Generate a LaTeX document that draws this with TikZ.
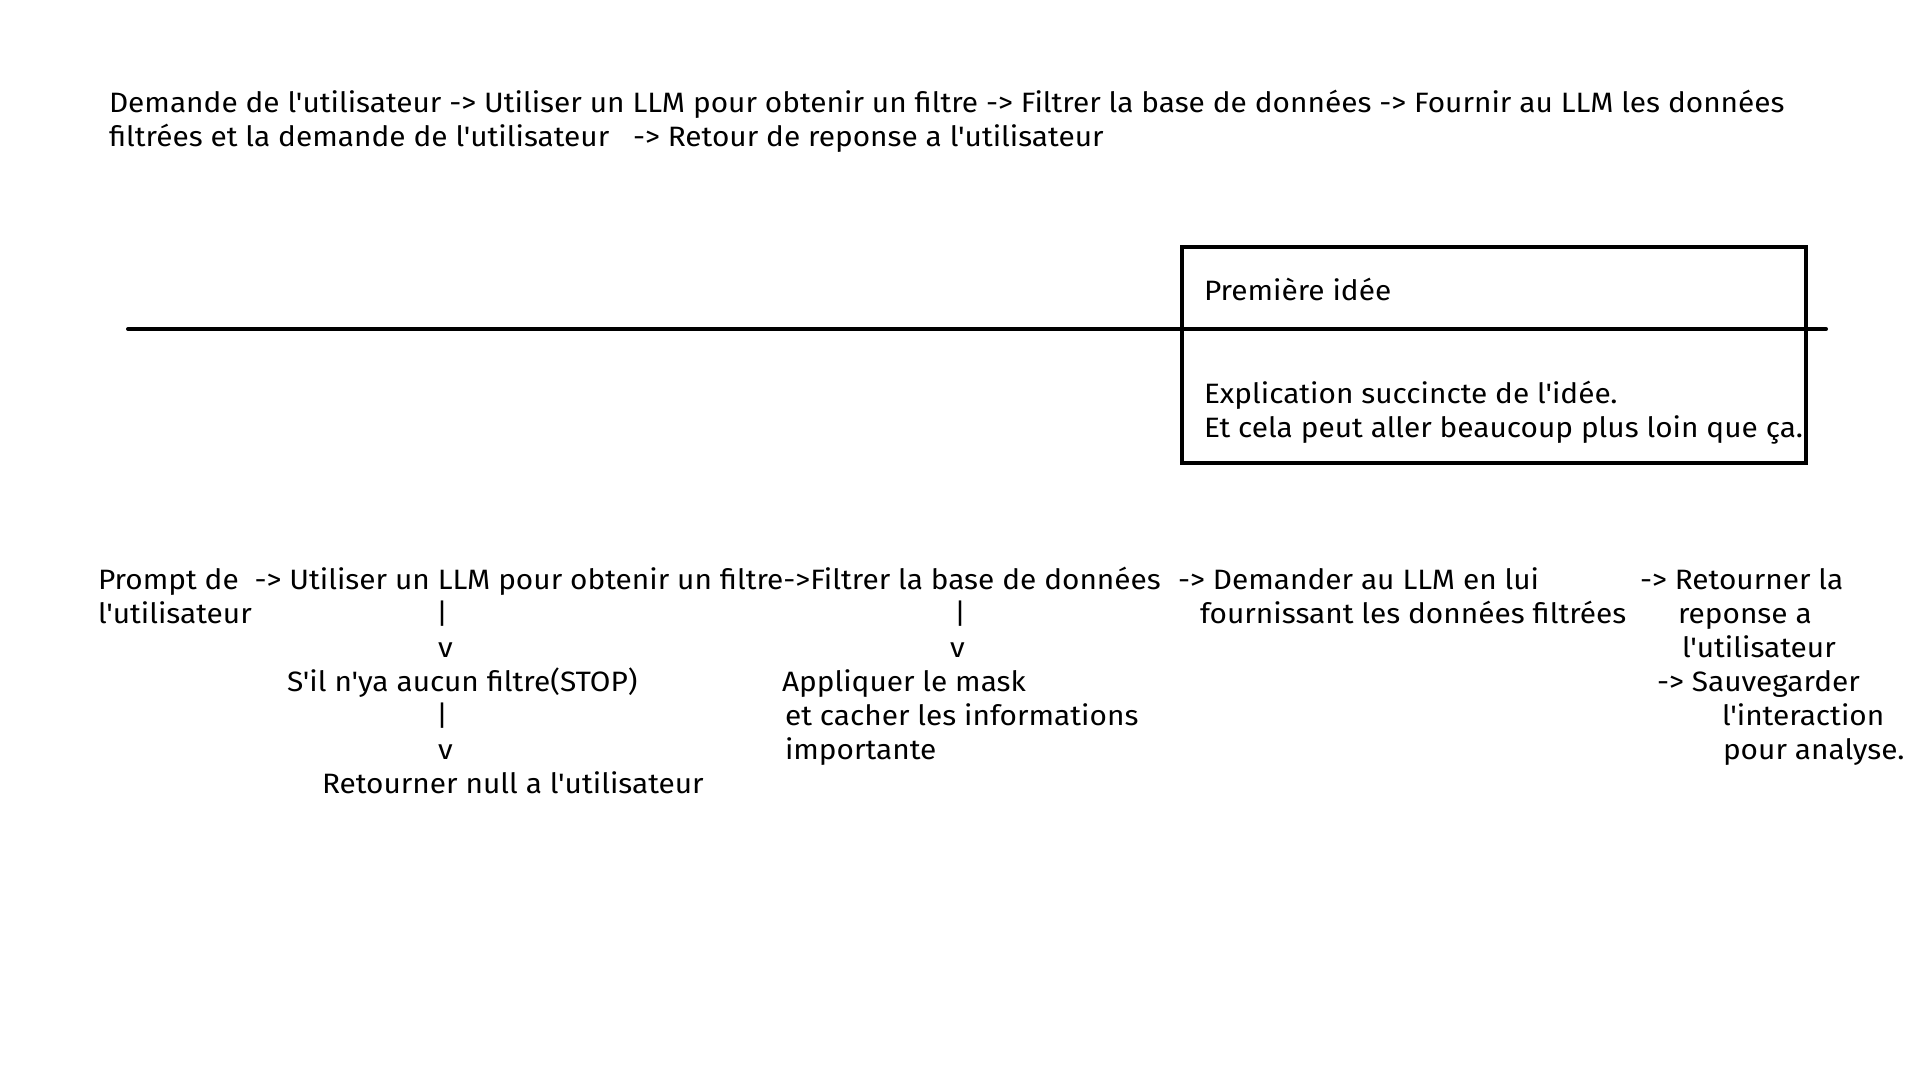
\documentclass[tikz,border=0pt]{standalone}
\usepackage{fontspec}
\setmainfont{Fira Sans}[Ligatures=TeXOff,FakeStretch=1.065]
\begin{document}
\begin{tikzpicture}[x=0.5pt,y=-0.5pt,
  txt/.style={anchor=base west,inner sep=0pt,outer sep=0pt,font=\fontsize{14}{17}\selectfont},
  toptxt/.style={txt},
  rule/.style={line width=2pt,line cap=round}]
\useasboundingbox[fill=white] (0,0) rectangle (1920,1080);
% top description
\node[toptxt] (t1) at (109,113) {Demande de l'utilisateur -> Utiliser un LLM pour obtenir un filtre -> Filtrer la base de données -> Fournir au LLM les données};
\node[toptxt] (t2) at (109,147) {filtrées et la demande de l'utilisateur \ \ -> Retour de reponse a l'utilisateur};
% timeline and box
\coordinate (l0) at (128,329);
\coordinate (l1) at (1826,329);
\draw[rule] (l0) -- (l1);
\node[draw,line width=2pt,minimum width=312pt,minimum height=108pt,inner sep=0pt,anchor=north west] (box) at (1180,245) {};
\node[txt] (title) at (1204,301) {Première idée};
\node[txt] (e1) at (1204,403) {Explication succincte de l'idée.};
\node[txt] (e2) at (1204,437) {Et cela peut aller beaucoup plus loin que ça.};
% flow
\node[txt] (a1) at (98,589) {Prompt de \ -> Utiliser un LLM pour obtenir un filtre->Filtrer la base de données};
\node[txt] (a2) at (98,623) {l'utilisateur};
\node[txt] (c1) at (1178,589) {-> Demander au LLM en lui};
\node[txt] (c2) at (1200,623) {fournissant les données filtrées};
\node[txt] (d1) at (1640,589) {-> Retourner la};
\node[txt] (d2) at (1678,623) {reponse a};
\node[txt] (d3) at (1682,657) {l'utilisateur};
\node[txt] (d4) at (1657,691) {-> Sauvegarder};
\node[txt] (d5) at (1722,725) {l'interaction};
\node[txt] (d6) at (1723,759) {pour analyse.};
% branch under LLM
\node[txt] (p1) at (436,623) {|};
\node[txt] (v1) at (438,657) {v};
\node[txt] (s1) at (287,691) {S'il n'ya aucun filtre(STOP)};
\node[txt] (p2) at (436,725) {|};
\node[txt] (v2) at (438,759) {v};
\node[txt] (r1) at (322,793) {Retourner null a l'utilisateur};
% branch under filter
\node[txt] (p3) at (954,623) {|};
\node[txt] (v3) at (950,657) {v};
\node[txt] (m1) at (782,691) {Appliquer le mask};
\node[txt] (m2) at (785,725) {et cacher les informations};
\node[txt] (m3) at (785,759) {importante};
\end{tikzpicture}
\end{document}
